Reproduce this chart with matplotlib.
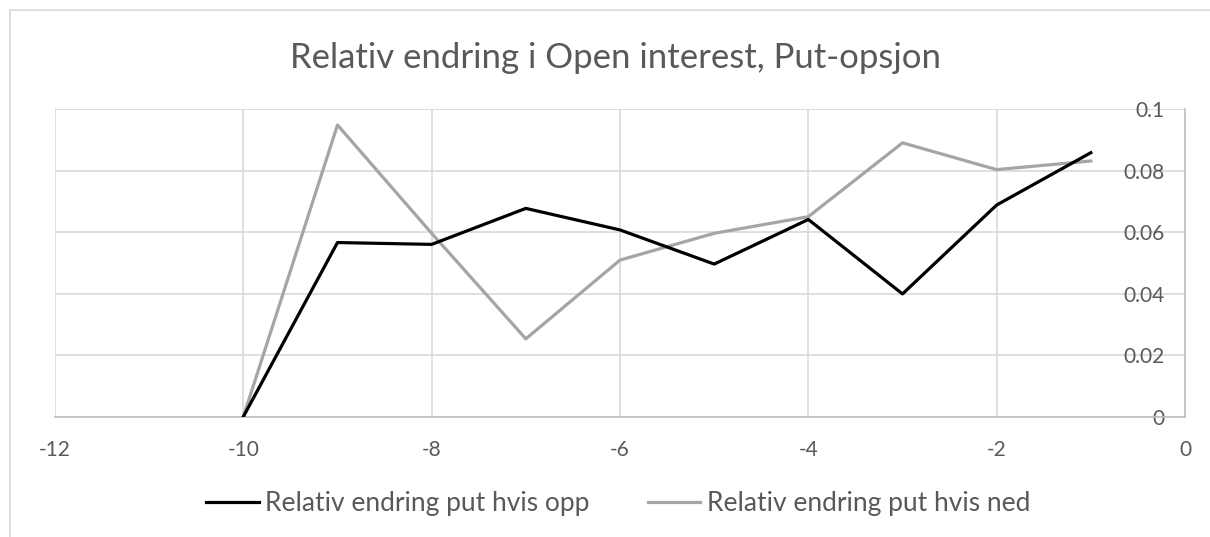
import matplotlib
matplotlib.use("Agg")
import matplotlib.pyplot as plt
from matplotlib.patches import Rectangle

plt.rcParams['font.family'] = ['Lato', 'DejaVu Sans']

x_vals = [-10, -9, -8, -7, -6, -5, -4, -3, -2, -1]
opp = [0.0, 0.0566, 0.0560, 0.0677, 0.0607, 0.0496, 0.0641, 0.0399, 0.0688, 0.0858]
ned = [0.0, 0.0948, 0.0596, 0.0253, 0.0509, 0.0596, 0.0650, 0.0890, 0.0803, 0.0831]
x_ticks = [-12, -10, -8, -6, -4, -2, 0]
y_ticks = [0, 0.02, 0.04, 0.06, 0.08, 0.1]
y_labels = ['0', '0.02', '0.04', '0.06', '0.08', '0.1']
title = 'Relativ endring i Open interest, Put-opsjon'
labels = ['Relativ endring put hvis opp', 'Relativ endring put hvis ned']

W, H = 1210, 537
fig = plt.figure(figsize=(W / 100, H / 100), dpi=100)
fig.patch.set_facecolor('white')

# outer chart border (only left/top visible)
fig.patches.append(Rectangle((10 / W, -0.2), 1.5, (H - 10) / H + 0.2,
                             transform=fig.transFigure, fill=False,
                             edgecolor='#d9d9d9', lw=1.2))

l, r, t, b = 55, 1185, 109, 416.7
ax = fig.add_axes([l / W, (H - b) / H, (r - l) / W, (b - t) / H])

text_col = '#595959'
ax.plot(x_vals, opp, color='black', lw=2.3, solid_joinstyle='round', label=labels[0], zorder=4)
ax.plot(x_vals, ned, color='#a5a5a5', lw=2.3, solid_joinstyle='round', label=labels[1], zorder=3)

ax.set_xlim(-12, 0)
ax.set_ylim(0, 0.1)
ax.set_xticks(x_ticks)
ax.set_xticklabels([str(v) for v in x_ticks])
ax.set_yticks(y_ticks)
ax.set_yticklabels(y_labels)
ax.grid(True, color='#d9d9d9', lw=1.2, zorder=0)
ax.set_axisbelow(True)

for s in ['left', 'top']:
    ax.spines[s].set_visible(False)
ax.spines['bottom'].set_color('#bfbfbf')
ax.spines['bottom'].set_linewidth(1.2)
ax.spines['right'].set_color('#bfbfbf')
ax.spines['right'].set_linewidth(1.2)

ax.yaxis.tick_right()
ax.tick_params(axis='y', length=0, pad=-15, labelsize=15, labelcolor=text_col)
for lab in ax.get_yticklabels():
    lab.set_horizontalalignment('right')
ax.tick_params(axis='x', length=0, pad=17, labelsize=15, labelcolor=text_col)

fig.text(615 / W, (H - 58) / H, title, ha='center', va='center', fontsize=25, color=text_col)

leg = fig.legend(loc='center', bbox_to_anchor=(618 / W, (H - 504) / H), ncol=2, frameon=False,
                 fontsize=19, handlelength=2.0, handletextpad=0.25, columnspacing=2.2)
for txt in leg.get_texts():
    txt.set_color(text_col)

fig.savefig('out.png', dpi=100, facecolor='white')
